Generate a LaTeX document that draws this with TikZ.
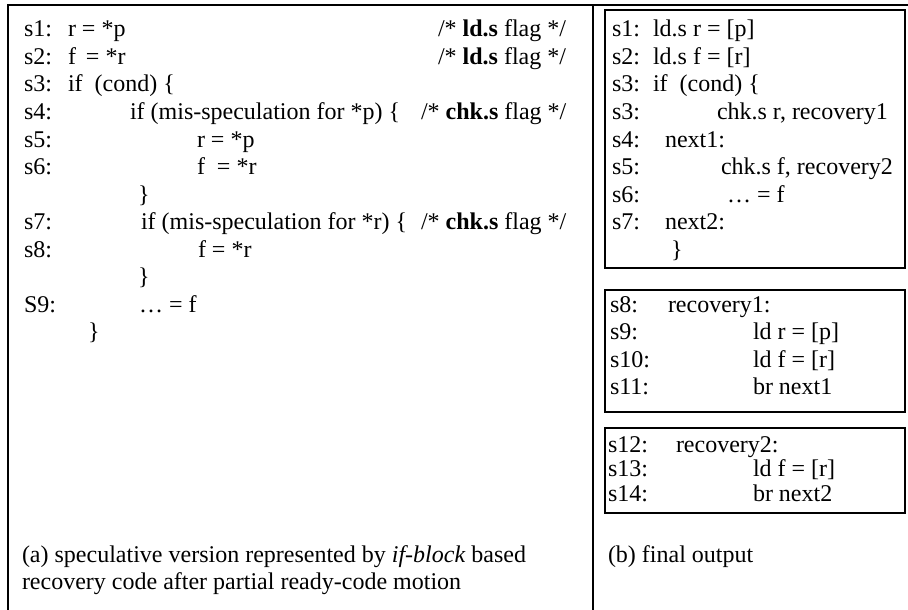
\documentclass[tikz,border=0pt]{standalone}
\usepackage{fontspec}
\setmainfont{Liberation Serif}
\begin{document}
\begin{tikzpicture}[x=1pt,y=-1pt,
  code/.style={inner sep=0pt,outer sep=0pt,anchor=base west,font=\fontsize{24}{28}\selectfont},
  frame/.style={line width=1.6pt},
  codebox/.style={line width=1.3pt}]
\useasboundingbox (0,0) rectangle (908,610);
% outer frame and panel divider
\draw[frame] (8,615) -- (8,5) -- (915,5);
\draw[frame] (593,5) -- (593,615);
% right-hand code boxes
\draw[codebox] (605,10) rectangle (905,268);
\draw[codebox] (605,290) rectangle (905,412);
\draw[codebox] (605,428) rectangle (905,513);

% common row grid, 27.5pt apart
\def\ra{37}\def\rb{64.5}\def\rc{92}\def\rd{119.5}\def\re{147}\def\rf{174.5}
\def\rg{202}\def\rh{229.5}\def\ri{257}\def\rj{284.5}\def\rk{312}\def\rl{339.5}
\def\rm{367}\def\rn{394.5}

% ---- panel (a) ----
\node[code] (a1) at (24,\ra) {s1:};  \node[code] (a1c) at (68,\ra) {r = *p};
\node[code] (a1m) at (438,\ra) {/* \textbf{ld.s} flag */};
\node[code] (a2) at (24,\rb) {s2:};  \node[code] (a2c) at (68,\rb) {f\,\ = *r};
\node[code] (a2m) at (438,\rb) {/* \textbf{ld.s} flag */};
\node[code] (a3) at (24,\rc) {s3:};  \node[code] (a3c) at (68,\rc) {if\ \ (cond) \{};
\node[code] (a4) at (24,\rd) {s4:};  \node[code] (a4c) at (130,\rd) {if (mis-speculation for *p) \{};
\node[code] (a4m) at (421,\rd) {/* \textbf{chk.s} flag */};
\node[code] (a5) at (24,\re) {s5:};  \node[code] (a5c) at (197,\re) {r = *p};
\node[code] (a6) at (24,\rf) {s6:};  \node[code] (a6c) at (197,\rf) {f\ \ = *r};
\node[code] (ab1) at (138,\rg) {\}};
\node[code] (a7) at (24,\rh) {s7:};  \node[code] (a7c) at (141,\rh) {if (mis-speculation for *r) \{};
\node[code] (a7m) at (421,\rh) {/* \textbf{chk.s} flag */};
\node[code] (a8) at (24,\ri) {s8:};  \node[code] (a8c) at (198,\ri) {f = *r};
\node[code] (ab2) at (138,\rj) {\}};
\node[code] (a9) at (24,\rk) {S9:};  \node[code] (a9c) at (139,\rk) {\ldots\ = f};
\node[code] (ab3) at (88,\rl) {\}};
\node[code] (capa1) at (22,562) {(a) speculative version represented by \textit{if-block} based};
\node[code] (capa2) at (22,589.5) {recovery code after partial ready-code motion};

% ---- panel (b), first box ----
\node[code] (b1) at (612,\ra) {s1:};  \node[code] (b1c) at (653,\ra) {ld.s r = [p]};
\node[code] (b2) at (612,\rb) {s2:};  \node[code] (b2c) at (653,\rb) {ld.s f = [r]};
\node[code] (b3) at (612,\rc) {s3:};  \node[code] (b3c) at (653,\rc) {if\ \ (cond) \{};
\node[code] (b4) at (612,\rd) {s3:};  \node[code] (b4c) at (717,\rd) {chk.s r, recovery1};
\node[code] (b5) at (612,\re) {s4:};  \node[code] (b5c) at (665,\re) {next1:};
\node[code] (b6) at (612,\rf) {s5:};  \node[code] (b6c) at (721,\rf) {chk.s f, recovery2};
\node[code] (b7) at (612,\rg) {s6:};  \node[code] (b7c) at (727,\rg) {\ldots\ = f};
\node[code] (b8) at (612,\rh) {s7:};  \node[code] (b8c) at (665,\rh) {next2:};
\node[code] (bb1) at (671,\ri) {\}};

% second box
\node[code] (c1) at (610,\rk) {s8:};  \node[code] (c1c) at (668,\rk) {recovery1:};
\node[code] (c2) at (610,\rl) {s9:};  \node[code] (c2c) at (753,\rl) {ld r = [p]};
\node[code] (c3) at (610,\rm) {s10:}; \node[code] (c3c) at (753,\rm) {ld f = [r]};
\node[code] (c4) at (610,\rn) {s11:}; \node[code] (c4c) at (753,\rn) {br next1};

% third box
\node[code] (d1) at (608,452) {s12:}; \node[code] (d1c) at (676,452) {recovery2:};
\node[code] (d2) at (608,476.5) {s13:}; \node[code] (d2c) at (753,476.5) {ld f = [r]};
\node[code] (d3) at (608,501) {s14:}; \node[code] (d3c) at (753,501) {br next2};

\node[code] (capb) at (608,562) {(b) final output};
\end{tikzpicture}
\end{document}
